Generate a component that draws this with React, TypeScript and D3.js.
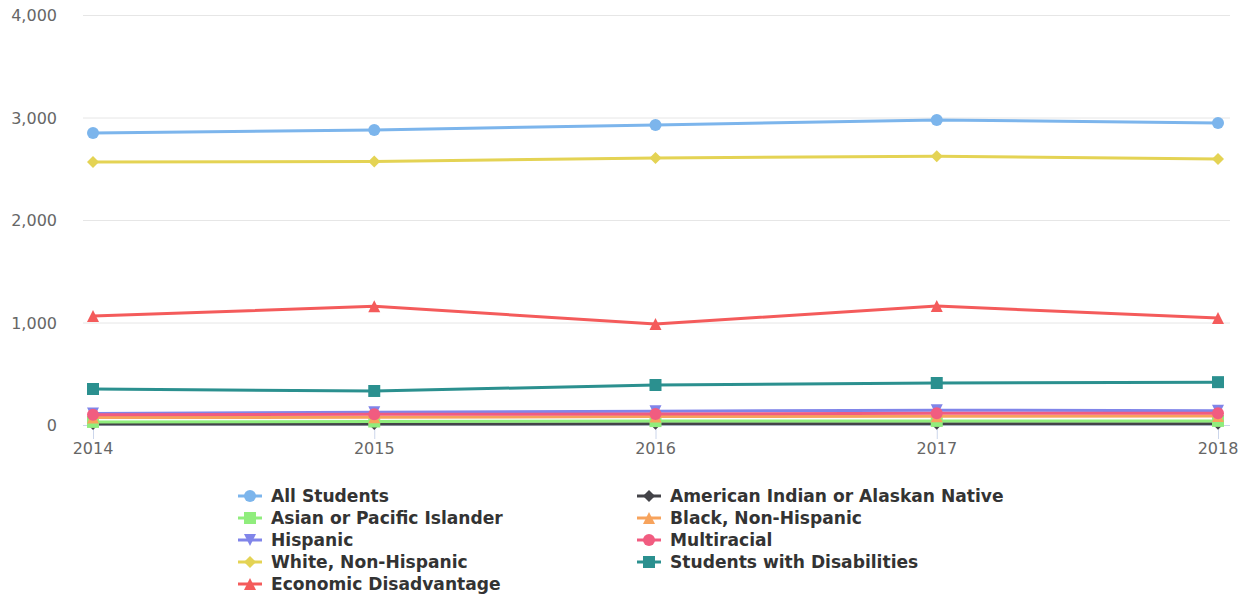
import React from "react";
import * as d3 from "d3";

const years = ["2014", "2015", "2016", "2017", "2018"];
const yTicks = [0, 1000, 2000, 3000, 4000];

const allStudents = [2849, 2878, 2927, 2976, 2946];
const americanIndian = [10, 10, 12, 12, 12];
const asianPacific = [30, 34, 38, 40, 40];
const blackNonHispanic = [72, 76, 82, 86, 88];
const hispanic = [112, 124, 134, 145, 140];
const multiracial = [100, 104, 108, 114, 114];
const whiteNonHispanic = [2566, 2570, 2605, 2622, 2596];
const studentsWithDisabilities = [351, 332, 390, 410, 418];
const economicDisadvantage = [1063, 1158, 985, 1160, 1044];

type Sym = "circle" | "diamond" | "square" | "triangle" | "triangle-down";
interface Series { name: string; color: string; symbol: Sym; values: number[] }

const series: Series[] = [
  { name: "All Students", color: "#7cb5ec", symbol: "circle", values: allStudents },
  { name: "American Indian or Alaskan Native", color: "#434348", symbol: "diamond", values: americanIndian },
  { name: "Asian or Pacific Islander", color: "#90ed7d", symbol: "square", values: asianPacific },
  { name: "Black, Non-Hispanic", color: "#f7a35c", symbol: "triangle", values: blackNonHispanic },
  { name: "Hispanic", color: "#8085e9", symbol: "triangle-down", values: hispanic },
  { name: "Multiracial", color: "#f15c80", symbol: "circle", values: multiracial },
  { name: "White, Non-Hispanic", color: "#e4d354", symbol: "diamond", values: whiteNonHispanic },
  { name: "Students with Disabilities", color: "#2b908f", symbol: "square", values: studentsWithDisabilities },
  { name: "Economic Disadvantage", color: "#f45b5b", symbol: "triangle", values: economicDisadvantage },
];

const W = 1246;
const H = 597;
const plotLeft = 83;
const plotRight = 1230;
const plotTop = 15;
const plotBottom = 425;

const x = d3.scalePoint<string>().domain(years).range([93, 1218]);
const y = d3.scaleLinear().domain([0, 4000]).range([plotBottom, plotTop]);
const fmt = d3.format(",");

function markerPath(sym: Sym, r: number): string {
  switch (sym) {
    case "circle":
      return `M ${-r} 0 A ${r} ${r} 0 1 0 ${r} 0 A ${r} ${r} 0 1 0 ${-r} 0 Z`;
    case "square":
      return `M ${-r} ${-r} L ${r} ${-r} L ${r} ${r} L ${-r} ${r} Z`;
    case "diamond":
      return `M 0 ${-r} L ${r} 0 L 0 ${r} L ${-r} 0 Z`;
    case "triangle":
      return `M 0 ${-r} L ${r} ${r} L ${-r} ${r} Z`;
    case "triangle-down":
      return `M ${-r} ${-r} L ${r} ${-r} L 0 ${r} Z`;
  }
}

const font = "'DejaVu Sans', Verdana, sans-serif";

export default function App() {
  const line = d3
    .line<number>()
    .x((_, i) => x(years[i]) as number)
    .y((v) => y(v));

  const legendCols = [238, 637];
  const legendRowY = [496, 518, 540, 562, 584];

  return (
    <svg
      width={W}
      height={H}
      style={{ position: "absolute", left: 0, top: 0, background: "#fff" }}
      fontFamily={font}
    >
      {/* horizontal grid and y labels */}
      {yTicks.map((t) => (
        <g key={t}>
          {t > 0 && (
            <line x1={plotLeft} x2={plotRight} y1={y(t) + 0.5} y2={y(t) + 0.5} stroke="#e6e6e6" strokeWidth={1} />
          )}
          <text x={57} y={y(t) + 6} textAnchor="end" fontSize={16} fill="#666666">
            {fmt(t)}
          </text>
        </g>
      ))}

      {/* x axis */}
      <line x1={plotLeft} x2={plotRight} y1={plotBottom + 0.5} y2={plotBottom + 0.5} stroke="#ccd6eb" strokeWidth={1} />
      {years.map((yr) => (
        <g key={yr}>
          <line
            x1={(x(yr) as number) + 0.5}
            x2={(x(yr) as number) + 0.5}
            y1={plotBottom}
            y2={plotBottom + 14}
            stroke="#ccd6eb"
            strokeWidth={1}
          />
          <text x={x(yr) as number} y={454} textAnchor="middle" fontSize={16} fill="#666666">
            {yr}
          </text>
        </g>
      ))}

      {/* series */}
      {series.map((s) => (
        <g key={s.name}>
          <path d={line(s.values) ?? ""} fill="none" stroke={s.color} strokeWidth={3} strokeLinejoin="round" strokeLinecap="round" />
          {s.values.map((v, i) => (
            <path
              key={i}
              transform={`translate(${x(years[i])},${y(v)})`}
              d={markerPath(s.symbol, 6)}
              fill={s.color}
            />
          ))}
        </g>
      ))}

      {/* legend */}
      {series.map((s, i) => {
        const col = i % 2;
        const row = Math.floor(i / 2);
        const lx = legendCols[col];
        const ly = legendRowY[row];
        return (
          <g key={s.name} transform={`translate(${lx},${ly})`}>
            <line x1={0} x2={24} y1={0} y2={0} stroke={s.color} strokeWidth={3} />
            <path transform="translate(12,0)" d={markerPath(s.symbol, 6)} fill={s.color} />
            <text x={33} y={6} fontSize={17.1} fontWeight="bold" fill="#333333">
              {s.name}
            </text>
          </g>
        );
      })}
    </svg>
  );
}
